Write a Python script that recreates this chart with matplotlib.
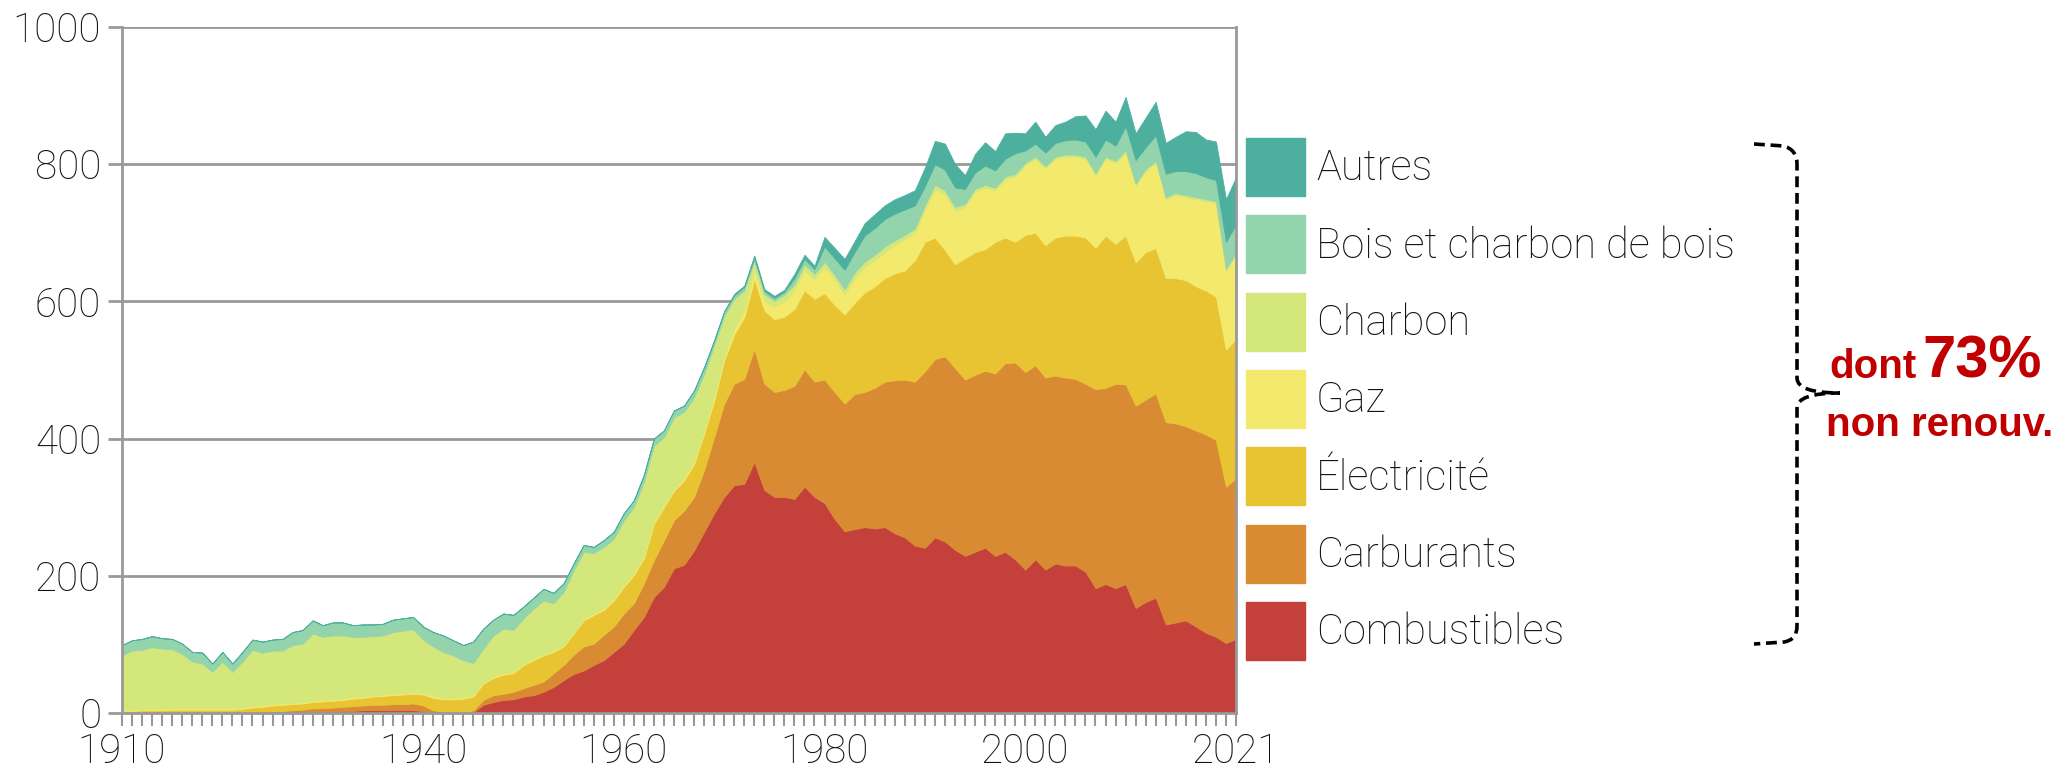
import numpy as np
import matplotlib.pyplot as plt
from matplotlib.patches import Rectangle, PathPatch
from matplotlib.path import Path
from matplotlib.ticker import MultipleLocator

# Consommation d'énergie finale par type, 1910-2021
years = np.arange(1910, 2022)

combustibles = [
    0, 0, 0, 0, 0, 0, 0, 0, 0, 0,
    0, 0, 0, 0, 0, 0, 0, 1, 1, 2,
    2, 2, 3, 3, 4, 4, 4, 4, 4, 4,
    3, 1, 0, 0, 0, 1, 12, 16, 19, 20,
    24, 26, 31, 38, 48, 57, 62, 70, 77, 89,
    101, 121, 140, 169, 184, 211, 216, 237, 264, 291,
    315, 332, 334, 366, 325, 315, 315, 312, 330, 315,
    306, 283, 265, 268, 271, 269, 271, 262, 256, 244,
    241, 256, 250, 238, 229, 235, 241, 229, 235, 224,
    209, 224, 209, 218, 215, 215, 206, 182, 188, 182,
    188, 153, 162, 168, 129, 132, 135, 126, 117, 111,
    102, 108]

carburants = [
    1, 1, 1, 1, 1, 1, 1, 1, 1, 1,
    1, 1, 1, 2, 2, 2, 3, 3, 4, 5,
    5, 6, 6, 7, 7, 8, 8, 9, 9, 10,
    8, 3, 2, 1, 1, 3, 7, 10, 9, 11,
    12, 15, 15, 20, 22, 28, 35, 31, 37, 37,
    44, 39, 49, 54, 68, 70, 79, 78, 90, 111,
    136, 148, 153, 165, 155, 153, 156, 165, 171, 168,
    180, 185, 186, 197, 197, 205, 212, 223, 230, 239,
    257, 260, 270, 265, 257, 258, 258, 266, 275, 287,
    288, 283, 280, 274, 274, 272, 274, 290, 286, 298,
    291, 295, 295, 298, 295, 290, 283, 286, 289, 287,
    228, 234]

electricite = [
    2, 2, 3, 3, 3, 4, 4, 4, 4, 4,
    4, 4, 5, 6, 7, 9, 9, 9, 9, 9,
    10, 10, 10, 11, 11, 12, 13, 13, 14, 14,
    16, 18, 18, 19, 20, 20, 24, 25, 28, 27,
    34, 36, 38, 31, 27, 31, 38, 42, 36, 38,
    39, 41, 36, 53, 48, 43, 44, 48, 53, 53,
    63, 72, 90, 102, 107, 106, 107, 112, 115, 121,
    126, 127, 130, 133, 145, 148, 151, 156, 159, 177,
    189, 177, 155, 151, 177, 179, 177, 192, 183, 176,
    200, 193, 193, 201, 207, 209, 213, 206, 222, 204,
    217, 209, 215, 212, 210, 212, 213, 210, 210, 209,
    200, 203]

gaz = [
    2, 2, 2, 2, 2, 2, 2, 2, 2, 2,
    2, 2, 2, 2, 2, 2, 2, 2, 2, 2,
    2, 2, 2, 2, 2, 2, 2, 2, 2, 2,
    2, 2, 2, 2, 2, 2, 2, 2, 2, 2,
    2, 2, 2, 2, 2, 2, 2, 2, 3, 3,
    3, 3, 3, 3, 3, 3, 4, 5, 5, 6,
    6, 8, 10, 12, 15, 18, 22, 27, 29, 28,
    38, 37, 29, 36, 37, 38, 38, 41, 45, 40,
    47, 71, 81, 78, 75, 88, 90, 75, 85, 95,
    102, 108, 112, 115, 115, 115, 115, 106, 112, 118,
    121, 112, 118, 124, 115, 121, 121, 127, 130, 136,
    115, 124]

charbon = [
    79, 86, 86, 90, 88, 86, 79, 68, 65, 53,
    68, 53, 67, 82, 77, 78, 77, 84, 85, 98,
    92, 93, 92, 88, 87, 86, 86, 90, 91, 92,
    78, 73, 67, 62, 54, 47, 49, 60, 65, 61,
    66, 73, 78, 69, 77, 90, 98, 88, 89, 87,
    94, 96, 109, 111, 99, 104, 96, 92, 82, 75,
    59, 44, 29, 14, 9, 9, 10, 9, 9, 8,
    8, 7, 8, 8, 8, 8, 8, 7, 7, 6,
    6, 6, 6, 6, 4, 4, 4, 4, 4, 4,
    3, 3, 3, 3, 3, 3, 3, 3, 3, 3,
    3, 3, 3, 3, 3, 3, 3, 3, 3, 3,
    2, 2]

bois = [
    15, 15, 16, 16, 15, 15, 15, 14, 16, 12,
    14, 12, 14, 15, 16, 16, 17, 19, 20, 19,
    17, 19, 19, 17, 18, 17, 17, 18, 18, 18,
    19, 21, 24, 22, 22, 31, 29, 23, 22, 22,
    17, 16, 17, 15, 13, 10, 10, 9, 10, 10,
    10, 10, 10, 10, 10, 10, 9, 10, 10, 7,
    6, 5, 5, 5, 4, 4, 4, 9, 8, 7,
    22, 24, 28, 30, 38, 39, 40, 39, 37, 34,
    28, 30, 30, 28, 22, 24, 28, 25, 26, 30,
    18, 19, 20, 20, 21, 22, 22, 24, 25, 22,
    35, 34, 32, 37, 34, 32, 35, 35, 32, 31,
    40, 41]

autres = [0] * 60 + [
    1, 2, 2, 3, 3, 3, 3, 6, 6, 5,
    14, 15, 16, 16, 18, 20, 20, 21, 21, 22,
    27, 34, 38, 34, 20, 27, 34, 28, 37, 30,
    25, 32, 23, 26, 27, 34, 38, 40, 42, 35,
    43, 39, 43, 49, 45, 50, 58, 60, 55, 56,
    62, 69]

labels = ['Combustibles', 'Carburants', 'Électricité', 'Gaz', 'Charbon',
          'Bois et charbon de bois', 'Autres']
colors = ['#c4403a', '#d98b34', '#e8c433', '#f3e96d', '#d4e77b',
          '#93d4ac', '#4db09f']
year_labels = [1910, 1940, 1960, 1980, 2000, 2021]

W, H = 2055, 774
fig = plt.figure(figsize=(W / 100, H / 100), dpi=100)
ax = fig.add_axes([122 / W, 61 / H, (1236 - 122) / W, (713 - 27) / H])

polys = ax.stackplot(years, combustibles, carburants, electricite, gaz,
                     charbon, bois, autres, colors=colors, zorder=2)
for p, c in zip(polys, colors):
    p.set_edgecolor(c)
    p.set_linewidth(0.6)

ax.set_xlim(1910, 2021)
ax.set_ylim(0, 1000)

grey = '#999999'
text_col = '#111111'
ax.set_yticks(range(0, 1001, 200))
ax.yaxis.grid(True, color=grey, lw=2)
ax.set_axisbelow(True)
ax.set_xticks(year_labels)
ax.xaxis.set_minor_locator(MultipleLocator(1))

for s in ['left', 'bottom', 'right']:
    ax.spines[s].set_color(grey)
    ax.spines[s].set_linewidth(2)
ax.spines['top'].set_visible(False)
ax.spines['bottom'].set_zorder(5)

ax.tick_params(axis='y', length=10, width=2, color=grey, pad=5,
               labelsize=29, labelcolor=text_col)
ax.tick_params(axis='x', which='both', length=9, width=1.5, color=grey,
               pad=5, labelsize=29, labelcolor=text_col)
for lab in ax.get_xticklabels() + ax.get_yticklabels():
    lab.set_fontfamily('Roboto')
    lab.set_fontweight('light')

# légende à droite
for i, (lab, col) in enumerate(zip(labels[::-1], colors[::-1])):
    top = 138 + i * 77.3
    fig.patches.append(Rectangle((1246 / W, 1 - (top + 58) / H), 59 / W, 58 / H,
                                 transform=fig.transFigure, color=col))
    fig.text(1316 / W, 1 - (top + 31) / H, lab, va='center', ha='left',
             fontsize=30, family='Roboto', weight='light', color=text_col)

# accolade pointillée
pts = [(1754, 144), (1784, 146), (1797, 150), (1797, 164),
       (1797, 378), (1797, 393), (1840, 393),
       (1797, 393), (1797, 408),
       (1797, 626), (1797, 640), (1784, 642), (1754, 644)]
codes = [Path.MOVETO, Path.LINETO, Path.CURVE3, Path.CURVE3,
         Path.LINETO, Path.CURVE3, Path.CURVE3,
         Path.CURVE3, Path.CURVE3,
         Path.LINETO, Path.CURVE3, Path.CURVE3, Path.LINETO]
verts = [(x / W, 1 - y / H) for x, y in pts]
fig.patches.append(PathPatch(Path(verts, codes), transform=fig.transFigure,
                             fill=False, lw=2.6, ls=(0, (3, 1.6)),
                             edgecolor='black'))

red = '#c00000'
fig.text(1829 / W, 1 - 378 / H, 'dont', fontsize=29, weight='bold',
         family='Liberation Sans', color=red, ha='left', va='baseline')
fig.text(1922 / W, 1 - 378 / H, '73%', fontsize=43, weight='bold',
         family='Liberation Sans', color=red, ha='left', va='baseline')
fig.text(1826 / W, 1 - 436 / H, 'non renouv.', fontsize=29, weight='bold',
         family='Liberation Sans', color=red, ha='left', va='baseline')

fig.savefig('out.png', dpi=100)
